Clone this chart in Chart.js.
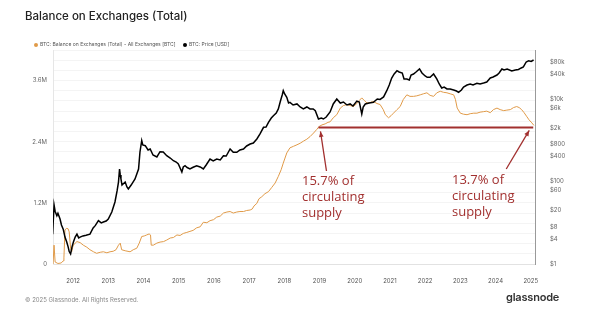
<!DOCTYPE html>
<html lang="en">
<head>
  <meta charset="UTF-8" />
  <title>Balance on Exchanges (Total)</title>
  <script src="https://cdn.jsdelivr.net/npm/chart.js"></script>
  <style>
    body { margin: 0; background: #fff; font-family: "Inter", "Roboto", sans-serif; }
    #wrap { position: relative; width: 600px; height: 328px; overflow: hidden; }
    #chart { position: absolute; left: 0; top: 0; }
    .title { position: absolute; left: 25px; top: 9px; font-size: 11.5px; font-weight: 500; color: #222; }
    .legend { position: absolute; top: 41px; font-size: 5px; color: #555; white-space: nowrap; }
    .legend i { display: inline-block; width: 4px; height: 4px; border-radius: 50%; margin-right: 2px; vertical-align: middle; }
    .footer { position: absolute; left: 25px; top: 296px; font-size: 6px; color: #888; }
    .logo { position: absolute; left: 506px; top: 290px; font-size: 11px; font-weight: 600; color: #333; letter-spacing: -0.2px; }
    .note { position: absolute; font-family: "Open Sans", sans-serif; font-size: 13px; line-height: 16px; color: #a2302f; }
  </style>
</head>
<body>
  <div id="wrap">
    <canvas id="chart" width="600" height="328"></canvas>
    <div class="title">Balance on Exchanges (Total)</div>
    <div class="legend" style="left:34px"><i style="background:#e09a48"></i>BTC: Balance on Exchanges (Total) - All Exchanges [BTC]</div>
    <div class="legend" style="left:183px"><i style="background:#000"></i>BTC: Price [USD]</div>
    <div class="note" style="left:302px; top:172px">15.7% of<br>circulating<br>supply</div>
    <div class="note" style="left:452px; top:171px">13.7% of<br>circulating<br>supply</div>
    <div class="footer">© 2025 Glassnode. All Rights Reserved.</div>
    <div class="logo">glassnode</div>
  </div>

  <script>
    // x axis tick years
    const xTickYears = [2012, 2013, 2014, 2015, 2016, 2017, 2018, 2019, 2020, 2021, 2022, 2023, 2024, 2025];
    // right axis (log) tick values in USD
    const priceTicks = [1, 4, 8, 20, 60, 100, 400, 800, 2000, 6000, 10000, 40000, 80000];

    // BTC price [USD]
    const priceYears = [
      2011.42, 2011.46, 2011.49, 2011.54, 2011.57, 2011.63, 2011.67, 2011.72, 2011.77, 2011.82, 2011.86, 2011.89, 2011.93, 2011.97,
      2012.01, 2012.06, 2012.11, 2012.16, 2012.2, 2012.28, 2012.37, 2012.48, 2012.57, 2012.63, 2012.72, 2012.8, 2012.86, 2012.94,
      2013.0, 2013.1, 2013.19, 2013.25, 2013.29, 2013.32, 2013.34, 2013.36, 2013.39, 2013.48, 2013.53, 2013.57, 2013.65, 2013.76,
      2013.86, 2013.9, 2013.95, 2013.98, 2014.05, 2014.13, 2014.19, 2014.27, 2014.38, 2014.47, 2014.56, 2014.66, 2014.76, 2014.85,
      2014.93, 2014.99, 2015.09, 2015.13, 2015.18, 2015.24, 2015.32, 2015.41, 2015.51, 2015.61, 2015.7, 2015.78, 2015.89, 2015.98,
      2016.08, 2016.18, 2016.27, 2016.35, 2016.46, 2016.55, 2016.65, 2016.74, 2016.84, 2016.93, 2017.03, 2017.12, 2017.22, 2017.31,
      2017.41, 2017.48, 2017.55, 2017.63, 2017.69, 2017.77, 2017.83, 2017.89, 2017.94, 2017.97, 2018.01, 2018.07, 2018.12, 2018.16,
      2018.25, 2018.36, 2018.45, 2018.54, 2018.64, 2018.73, 2018.82, 2018.88, 2018.97, 2019.05, 2019.11, 2019.19, 2019.3, 2019.39,
      2019.49, 2019.59, 2019.68, 2019.78, 2019.87, 2019.95, 2020.06, 2020.13, 2020.2, 2020.24, 2020.3, 2020.41, 2020.53, 2020.64,
      2020.72, 2020.82, 2020.91, 2020.98, 2021.05, 2021.12, 2021.2, 2021.26, 2021.35, 2021.4, 2021.48, 2021.55, 2021.6, 2021.67,
      2021.74, 2021.84, 2021.91, 2022.0, 2022.06, 2022.14, 2022.24, 2022.33, 2022.4, 2022.47, 2022.54, 2022.62, 2022.71, 2022.81,
      2022.89, 2022.95, 2023.03, 2023.09, 2023.19, 2023.28, 2023.36, 2023.47, 2023.56, 2023.66, 2023.75, 2023.85, 2023.93, 2024.04,
      2024.1, 2024.18, 2024.24, 2024.33, 2024.46, 2024.56, 2024.65, 2024.73, 2024.79, 2024.87, 2024.94, 2025.01, 2025.08
    ];
    const priceValues = [
      5.3, 27, 19, 14.8, 17, 12.3, 8.8, 7, 4.5, 3.4, 2.6, 2.0, 1.75, 2.6,
      3.4, 4.5, 5.3, 4.3, 4.5, 4.8, 5.0, 5.3, 7.5, 8.5, 11.2, 9.9, 10.4, 11,
      12.3, 18.2, 31.9, 59, 97, 201, 144, 115, 82, 97, 74, 66, 82, 115,
      201, 519, 977, 767, 738, 581, 614, 439, 393, 528, 519, 422, 371, 319,
      296, 266, 170, 225, 241, 218, 201, 221, 241, 225, 201, 251, 351, 314,
      351, 332, 422, 415, 614, 510, 510, 581, 614, 726, 811, 858, 1073, 1420,
      2060, 2090, 2723, 3460, 3940, 4575, 5728, 8950, 12500, 15870, 13200, 11000, 8000, 8300,
      7160, 7580, 6400, 5730, 6400, 5730, 5730, 5200, 3275, 3460, 3275, 3660, 4840, 7580,
      10000, 7970, 8450, 7160, 7580, 6760, 8920, 8450, 4330, 6400, 7580, 7970, 8320, 10000,
      9730, 11200, 15870, 21800, 32200, 40400, 48500, 45100, 42700, 30600, 30600, 28900, 38200, 40400,
      45100, 53400, 42700, 36100, 33500, 33500, 40400, 30600, 23100, 18500, 19500, 17500, 17500, 16500,
      15600, 14500, 16500, 19500, 21800, 23100, 21800, 24000, 23100, 24400, 25800, 32300, 34100, 38100,
      42700, 53400, 50500, 53400, 47700, 50500, 51900, 56500, 59700, 78900, 84800, 81100, 88200
    ];

    // BTC balance on exchanges, millions of BTC
    const balanceYears = [
      2011.43, 2011.46, 2011.49, 2011.57, 2011.66, 2011.72, 2011.74, 2011.77, 2011.82, 2011.86, 2011.89, 2011.93, 2011.96, 2011.99,
      2012.01, 2012.06, 2012.11, 2012.2, 2012.29, 2012.39, 2012.48, 2012.58, 2012.67, 2012.77, 2012.86, 2012.96,
      2013.05, 2013.14, 2013.22, 2013.29, 2013.34, 2013.38, 2013.48, 2013.62, 2013.71, 2013.81, 2013.88, 2013.95,
      2014.02, 2014.09, 2014.16, 2014.2, 2014.22, 2014.28, 2014.38, 2014.47, 2014.57, 2014.66, 2014.76, 2014.85, 2014.95,
      2015.04, 2015.13, 2015.23, 2015.32, 2015.41, 2015.51, 2015.61, 2015.7, 2015.8, 2015.89, 2015.99,
      2016.08, 2016.18, 2016.27, 2016.37, 2016.46, 2016.55, 2016.65, 2016.74, 2016.84, 2016.93,
      2017.03, 2017.09, 2017.14, 2017.22, 2017.28, 2017.36, 2017.45, 2017.55, 2017.64, 2017.74, 2017.83, 2017.91, 2017.97,
      2018.02, 2018.07, 2018.16, 2018.26, 2018.36, 2018.45, 2018.54, 2018.64, 2018.73, 2018.83, 2018.92, 2018.99,
      2019.07, 2019.16, 2019.24, 2019.3, 2019.39, 2019.49, 2019.59, 2019.68, 2019.78, 2019.87, 2019.96,
      2020.06, 2020.13, 2020.2, 2020.27, 2020.35, 2020.44, 2020.53, 2020.63, 2020.72, 2020.81, 2020.87, 2020.96,
      2021.03, 2021.1, 2021.2, 2021.29, 2021.38, 2021.48, 2021.57, 2021.67, 2021.76, 2021.86, 2021.95,
      2022.05, 2022.14, 2022.24, 2022.33, 2022.43, 2022.52, 2022.62, 2022.71, 2022.81, 2022.86, 2022.91,
      2023.0, 2023.09, 2023.19, 2023.28, 2023.38, 2023.47, 2023.56, 2023.66, 2023.75, 2023.85, 2023.94,
      2024.04, 2024.13, 2024.23, 2024.32, 2024.42, 2024.51, 2024.6, 2024.67, 2024.74, 2024.81, 2024.88, 2024.95, 2025.03, 2025.09
    ];
    const balanceValues = [
      0, 0.37, 0.04, 0.01, 0.02, 0.06, 0.12, 0.67, 0.70, 0.69, 0.63, 0.31, 0.24, 0.33,
      0.37, 0.41, 0.44, 0.42, 0.37, 0.33, 0.28, 0.24, 0.21, 0.23, 0.24, 0.22,
      0.24, 0.25, 0.28, 0.37, 0.41, 0.28, 0.26, 0.24, 0.28, 0.31, 0.41, 0.54,
      0.55, 0.57, 0.59, 0.57, 0.37, 0.37, 0.41, 0.43, 0.44, 0.47, 0.51, 0.52, 0.57,
      0.56, 0.60, 0.62, 0.64, 0.66, 0.71, 0.73, 0.82, 0.81, 0.85, 0.87,
      0.92, 0.94, 1.0, 1.02, 1.03, 1.0, 1.02, 1.03, 1.03, 1.05,
      1.06, 1.08, 1.14, 1.19, 1.28, 1.32, 1.38, 1.42, 1.5, 1.59, 1.72, 1.85, 1.98,
      2.08, 2.18, 2.28, 2.31, 2.34, 2.37, 2.41, 2.45, 2.5, 2.57, 2.64, 2.7,
      2.73, 2.75, 2.78, 2.79, 2.87, 2.93, 3.06, 3.11, 3.13, 3.11, 3.09,
      3.15, 3.21, 3.26, 3.21, 3.16, 3.17, 3.19, 3.15, 3.13, 3.03, 2.93, 2.87,
      2.91, 2.96, 3.03, 3.09, 3.23, 3.32, 3.29, 3.29, 3.3, 3.32, 3.34,
      3.36, 3.31, 3.29, 3.36, 3.39, 3.37, 3.36, 3.34, 3.32, 3.23, 3.06,
      2.96, 2.94, 2.93, 2.95, 2.96, 2.96, 2.98, 2.99, 3.0, 2.97, 3.03,
      3.06, 3.03, 3.01, 3.02, 3.03, 3.07, 3.09, 3.07, 3.03, 2.97, 2.9, 2.83, 2.77, 2.72
    ];

    // reference level drawn in red (millions of BTC) and its span in years
    const refLevel = 2.68;
    const refStart = 2018.97;
    const refEnd = 2025.07;

    const fmtPrice = v => v >= 1000 ? '$' + (v / 1000) + 'k' : '$' + v;
    const tickFont = { family: 'Inter', size: 6 };

    const annotate = {
      id: 'annotate',
      afterDatasetsDraw(chart) {
        const { ctx, scales } = chart;
        const y = scales.y.getPixelForValue(refLevel * 1e6);
        const x1 = scales.x.getPixelForValue(refStart);
        const x2 = scales.x.getPixelForValue(refEnd);
        ctx.save();
        ctx.strokeStyle = '#a2302f';
        ctx.fillStyle = '#a2302f';
        ctx.lineWidth = 2;
        ctx.beginPath();
        ctx.moveTo(x1, y);
        ctx.lineTo(x2, y);
        ctx.stroke();
        const arrow = (fx, fy, tx, ty) => {
          ctx.lineWidth = 1.3;
          ctx.beginPath();
          ctx.moveTo(fx, fy);
          ctx.lineTo(tx, ty);
          ctx.stroke();
          const a = Math.atan2(ty - fy, tx - fx);
          ctx.beginPath();
          ctx.moveTo(tx, ty);
          ctx.lineTo(tx - 6 * Math.cos(a - 0.4), ty - 6 * Math.sin(a - 0.4));
          ctx.lineTo(tx - 6 * Math.cos(a + 0.4), ty - 6 * Math.sin(a + 0.4));
          ctx.closePath();
          ctx.fill();
        };
        arrow(x1 + 8, 171, x1 + 2, y + 4);
        arrow(x2 - 27, 169, x2 - 4, y + 3);
        ctx.restore();
      }
    };

    new Chart(document.getElementById('chart'), {
      type: 'line',
      data: {
        datasets: [
          {
            label: 'BTC: Price [USD]',
            data: priceYears.map((x, i) => ({ x, y: priceValues[i] })),
            yAxisID: 'yPrice',
            borderColor: '#000',
            borderWidth: 1.5,
            pointRadius: 0,
            tension: 0
          },
          {
            label: 'BTC: Balance on Exchanges (Total) - All Exchanges [BTC]',
            data: balanceYears.map((x, i) => ({ x, y: balanceValues[i] * 1e6 })),
            yAxisID: 'y',
            borderColor: '#e09a48',
            borderWidth: 1,
            pointRadius: 0,
            tension: 0
          }
        ]
      },
      options: {
        responsive: false,
        animation: false,
        devicePixelRatio: 1,
        layout: { padding: { top: 50, left: 0, right: 0, bottom: 0 } },
        plugins: { legend: { display: false }, tooltip: { enabled: false } },
        scales: {
          x: {
            type: 'linear',
            min: 2011.43,
            max: 2025.12,
            afterBuildTicks: s => { s.ticks = xTickYears.map(v => ({ value: v })); },
            afterFit: s => { s.height = 64; },
            grid: { display: false },
            border: { color: '#e2e2e2' },
            ticks: { font: tickFont, color: '#555', padding: 6, maxRotation: 0, callback: v => String(v) }
          },
          y: {
            position: 'left',
            min: 0,
            max: 4.2e6,
            afterFit: s => { s.width = 53; },
            grid: { color: 'rgba(0,0,0,0.045)', drawTicks: false },
            border: { color: '#e6e6e6' },
            ticks: {
              stepSize: 2e5,
              font: tickFont,
              color: '#666',
              padding: 6,
              autoSkip: false,
              callback: v => {
                const m = Math.round(v / 1e5);
                if (m % 12 !== 0) return '';
                return m === 0 ? '0' : (m / 10) + 'M';
              }
            }
          },
          yPrice: {
            type: 'logarithmic',
            position: 'right',
            min: 1,
            max: 154000,
            afterBuildTicks: s => { s.ticks = priceTicks.map(v => ({ value: v })); },
            afterFit: s => { s.width = 65; },
            grid: { display: false },
            border: { color: '#9a9a9a' },
            ticks: { font: tickFont, color: '#666', padding: 7, autoSkip: false, callback: v => fmtPrice(v) }
          }
        }
      },
      plugins: [annotate]
    });
  </script>
</body>
</html>
